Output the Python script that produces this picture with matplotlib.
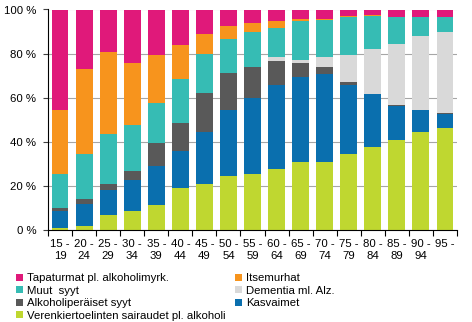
import matplotlib
matplotlib.use("Agg")
import matplotlib.pyplot as plt
from matplotlib.patches import Patch
import numpy as np

plt.rcParams['font.family'] = ['Liberation Sans', 'DejaVu Sans']

categories = ["15 -\n19", "20 -\n24", "25 -\n29", "30 -\n34", "35 -\n39", "40 -\n44",
              "45 -\n49", "50 -\n54", "55 -\n59", "60 -\n64", "65 -\n69", "70 -\n74",
              "75 -\n79", "80 -\n84", "85 -\n89", "90 -\n94", "95 -"]

verenkierto = [0.9, 1.5, 6.5, 8.3, 11.2, 18.8, 20.8, 24.2, 25.2, 27.4, 30.5, 30.5, 34.2, 37.4, 40.6, 44.2, 46.0]
kasvaimet   = [7.6, 10.0, 11.4, 14.4, 17.6, 17.1, 23.3, 29.9, 34.8, 38.2, 39.0, 40.1, 31.3, 24.0, 15.6, 10.0, 6.7]
alkoholi    = [1.5, 2.4, 2.6, 4.1, 10.6, 12.4, 18.0, 17.0, 13.9, 11.2, 6.1, 3.2, 1.5, 0.4, 0.3, 0.2, 0.2]
dementia    = [0.0, 0.0, 0.0, 0.0, 0.0, 0.0, 0.0, 0.0, 0.0, 1.4, 1.4, 4.7, 12.2, 20.2, 27.7, 33.6, 36.8]
muut        = [15.2, 20.6, 22.7, 20.5, 18.3, 19.9, 17.6, 15.7, 15.9, 13.6, 17.7, 16.7, 17.2, 15.0, 12.2, 8.4, 6.7]
itsemurhat  = [29.0, 38.4, 37.4, 28.2, 21.5, 15.6, 9.1, 5.6, 4.1, 2.9, 0.8, 0.7, 0.6, 0.3, 0.3, 0.0, 0.0]
tapaturmat  = [45.8, 27.1, 19.4, 24.5, 20.8, 16.2, 11.2, 7.6, 6.1, 5.3, 4.5, 4.1, 3.0, 2.7, 3.3, 3.6, 3.6]

series = [
    ("Verenkiertoelinten sairaudet pl. alkoholi", verenkierto, "#bfd730"),
    ("Kasvaimet", kasvaimet, "#0a6fae"),
    ("Alkoholiperäiset syyt", alkoholi, "#595959"),
    ("Dementia ml. Alz.", dementia, "#d9d9d9"),
    ("Muut  syyt", muut, "#36bcb4"),
    ("Itsemurhat", itsemurhat, "#f7941d"),
    ("Tapaturmat pl. alkoholimyrk.", tapaturmat, "#e0197a"),
]

fig = plt.figure(figsize=(4.72, 3.22), dpi=100)
ax = fig.add_axes([48/472, 1 - 229.5/322, 409/472, 220/322])

x = np.arange(len(categories))
bottom = np.zeros(len(categories))
handles = {}
for name, vals, col in series:
    v = np.array(vals)
    ax.bar(x, v, bottom=bottom, width=0.7, color=col, zorder=2)
    bottom += v
    handles[name] = Patch(facecolor=col, edgecolor='none')

ax.set_xlim(-0.5, len(categories) - 0.5)
ax.set_ylim(0, 100)
ax.set_yticks([0, 20, 40, 60, 80, 100])
ax.set_yticklabels([f"{t} %" for t in [0, 20, 40, 60, 80, 100]], fontsize=8.2)
ax.yaxis.grid(True, color="#a6a6a6", linewidth=0.8, zorder=0)
ax.tick_params(axis='y', length=3.5, width=0.8, color='#404040', pad=5)
ax.set_xticks(x)
ax.set_xticklabels(categories, fontsize=8.2, linespacing=1.35)
ax.tick_params(axis='x', which='major', length=0, pad=6.5)
ax.set_xticks(np.arange(-0.5, len(categories), 1.0), minor=True)
ax.tick_params(axis='x', which='minor', length=4, color='black', width=0.8)
for s in ['top', 'right']:
    ax.spines[s].set_visible(False)
ax.spines['left'].set_color('black')
ax.spines['left'].set_linewidth(0.8)
ax.spines['bottom'].set_linewidth(0.8)
ax.set_axisbelow(True)

order = ["Tapaturmat pl. alkoholimyrk.", "Muut  syyt", "Alkoholiperäiset syyt",
         "Verenkiertoelinten sairaudet pl. alkoholi",
         "Itsemurhat", "Dementia ml. Alz.", "Kasvaimet"]
fig.legend([handles[n] for n in order], order, ncol=2, loc='upper left',
           bbox_to_anchor=(14/472, 1 - 271/322), frameon=False, fontsize=8.2,
           handlelength=0.6, handleheight=0.6, handletextpad=0.3,
           labelspacing=0.22, columnspacing=0.9, borderaxespad=0, borderpad=0.2)

fig.savefig("out.png", dpi=100)
